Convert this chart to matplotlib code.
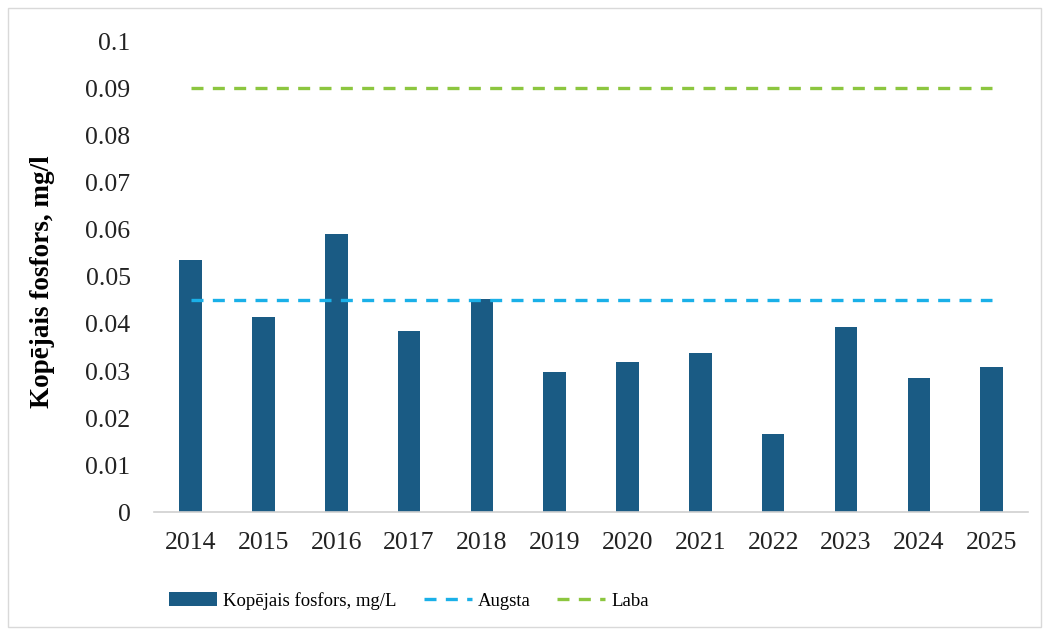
import matplotlib.pyplot as plt
from matplotlib.patches import Rectangle

# Total phosphorus per year and the two class limits
years = ['2014', '2015', '2016', '2017', '2018', '2019',
         '2020', '2021', '2022', '2023', '2024', '2025']
phosphorus = [0.0535, 0.0414, 0.059, 0.0385, 0.0453, 0.0299,
              0.032, 0.0338, 0.0167, 0.0394, 0.0285, 0.0308]
limit_high = 0.045   # Augsta
limit_good = 0.09    # Laba
y_ticks = [0, 0.01, 0.02, 0.03, 0.04, 0.05, 0.06, 0.07, 0.08, 0.09, 0.1]
y_tick_labels = ['0', '0.01', '0.02', '0.03', '0.04', '0.05',
                 '0.06', '0.07', '0.08', '0.09', '0.1']

BAR_COLOR = '#1a5b84'
HIGH_COLOR = '#1ab0e8'
GOOD_COLOR = '#8cc63f'

plt.rcParams['font.family'] = ['Liberation Serif', 'DejaVu Serif']

fig = plt.figure(figsize=(10.49, 6.35), dpi=100)
ax = fig.add_axes([0.147, 0.193, 0.833, 0.742])

x = list(range(len(years)))
bars = ax.bar(x, phosphorus, width=0.31, color=BAR_COLOR,
              label='Kopējais fosfors, mg/L', zorder=2)
high_line, = ax.plot([0, len(years) - 1], [limit_high, limit_high],
                     color=HIGH_COLOR, linestyle=(0, (3.6, 2.8)),
                     linewidth=2.4, label='Augsta', zorder=3)
good_line, = ax.plot([0, len(years) - 1], [limit_good, limit_good],
                     color=GOOD_COLOR, linestyle=(0, (3.6, 2.8)),
                     linewidth=2.4, label='Laba', zorder=3)

ax.set_xlim(-0.5, len(years) - 0.5)
ax.set_ylim(0, 0.1)
ax.set_xticks(x)
ax.set_xticklabels(years)
ax.set_yticks(y_ticks)
ax.set_yticklabels(y_tick_labels)
ax.tick_params(axis='both', length=0, labelsize=18.5, colors='#222222')
ax.tick_params(axis='x', pad=14)
ax.tick_params(axis='y', pad=17)

for side in ['top', 'right', 'left']:
    ax.spines[side].set_visible(False)
ax.spines['bottom'].set_color('#d0d0d0')
ax.spines['bottom'].set_linewidth(1.2)

ax.set_ylabel('Kopējais fosfors, mg/l', fontsize=19.5, fontweight='bold')
ax.yaxis.set_label_coords(-0.114, 0.49)

fig.legend(handles=[bars, high_line, good_line],
           loc='center', bbox_to_anchor=(0.39, 0.054), ncol=3,
           frameon=False, fontsize=13.5, handlelength=2.56,
           handleheight=0.75, columnspacing=1.45, handletextpad=0.3)

# Light frame around the whole chart
fig.patches.append(Rectangle((0.008, 0.012), 0.984, 0.976,
                             transform=fig.transFigure, fill=False,
                             edgecolor='#d9d9d9', linewidth=1.0))

plt.savefig('out.png', dpi=100)
plt.close()
